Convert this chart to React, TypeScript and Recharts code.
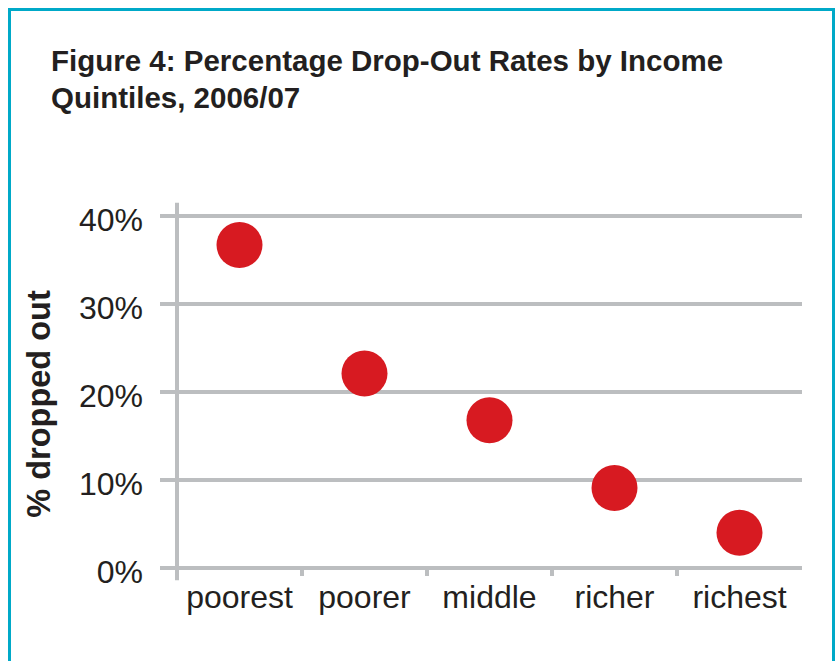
import { CartesianGrid, ReferenceLine, Scatter, ScatterChart, XAxis, YAxis } from "recharts";

const categories = ["poorest", "poorer", "middle", "richer", "richest"];
const dropOutRates = [36.7, 22.1, 16.8, 9.1, 4.0];
const yTicks = [0, 10, 20, 30, 40];

const FONT = '"Liberation Sans", Arial, Helvetica, sans-serif';
const GRID = "#bcbec0";
const TEXT = "#231f20";
const DOT = "#d71a21";
const FRAME = "#00a9c8";

// category i sits in the band [i, i + 1]; ticks at inner boundaries + label at band centre
const points = categories.map((name, i) => ({ x: i + 0.5, y: dropOutRates[i], name }));
const boundaries = categories.slice(1).map((_, i) => i + 1);
const xTicks = [...boundaries, ...points.map((p) => p.x)].sort((a, b) => a - b);

function XTick(props: any) {
  const { x, y, payload } = props;
  const v = payload.value as number;
  if (Number.isInteger(v)) {
    return <line x1={x} x2={x} y1={y} y2={y + 8} stroke={GRID} strokeWidth={4} />;
  }
  return (
    <text x={x} y={y + 40} textAnchor="middle" fontSize={32} fontFamily={FONT} fill={TEXT}>
      {categories[Math.floor(v)]}
    </text>
  );
}

function YTick(props: any) {
  const { x, y, payload } = props;
  return (
    <text x={x} y={y + 15} textAnchor="end" fontSize={32} fontFamily={FONT} fill={TEXT}>
      {`${payload.value}%`}
    </text>
  );
}

function Dot(props: any) {
  return <circle cx={props.cx} cy={props.cy} r={23} fill={DOT} />;
}

export default function App() {
  return (
    <div style={{ position: "absolute", left: 0, top: 0, width: 835, height: 661, overflow: "hidden", background: "#fff" }}>
      <div
        style={{
          position: "absolute",
          left: 8,
          top: 8,
          width: 821,
          height: 700,
          border: `3px solid ${FRAME}`,
        }}
      />
      <div style={{ position: "absolute", left: 0, top: 0 }}>
        <ScatterChart width={835} height={661} margin={{ top: 216, right: 33, bottom: 33, left: 77 }}>
          <CartesianGrid vertical={false} stroke={GRID} strokeWidth={4} />
          <XAxis
            type="number"
            dataKey="x"
            domain={[0, 5]}
            ticks={xTicks}
            interval={0}
            axisLine={false}
            tickLine={false}
            tickSize={0}
            tickMargin={0}
            height={60}
            tick={XTick}
          />
          <YAxis
            type="number"
            dataKey="y"
            domain={[0, 40]}
            ticks={yTicks}
            interval={0}
            width={100}
            axisLine={false}
            tickLine={{ stroke: GRID, strokeWidth: 4 }}
            tickSize={17}
            tickMargin={17}
            tick={YTick}
          />
          <ReferenceLine
            segment={[
              { x: 0, y: -1.4 },
              { x: 0, y: 41.5 },
            ]}
            stroke={GRID}
            strokeWidth={4}
            ifOverflow="visible"
          />
          <Scatter data={points} shape={Dot} isAnimationActive={false} />
        </ScatterChart>
      </div>
      <div
        style={{
          position: "absolute",
          left: 51,
          top: 42,
          fontFamily: FONT,
          fontWeight: "bold",
          fontSize: 29.5,
          lineHeight: "37px",
          color: TEXT,
          whiteSpace: "nowrap",
        }}
      >
        Figure 4: Percentage Drop-Out Rates by Income
        <br />
        Quintiles, 2006/07
      </div>
      <div
        style={{
          position: "absolute",
          left: 39,
          top: 404,
          transform: "translate(-50%, -50%) rotate(-90deg)",
          fontFamily: FONT,
          fontWeight: "bold",
          fontSize: 32.5,
          lineHeight: "36px",
          color: TEXT,
          whiteSpace: "nowrap",
        }}
      >
        % dropped out
      </div>
    </div>
  );
}
